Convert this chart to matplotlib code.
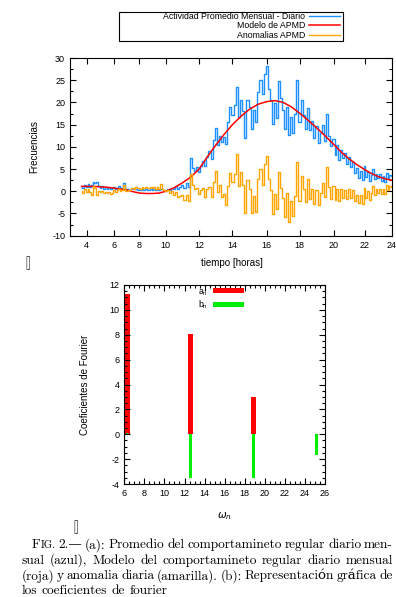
import numpy as np
import matplotlib
matplotlib.use("Agg")
import matplotlib.pyplot as plt
from matplotlib.patches import Rectangle
from matplotlib.ticker import MultipleLocator

# ------------------------------
# Data
# ------------------------------

# (a) daily series, one sample every 7.5 minutes
HOURS = np.arange(3.625, 24.0001, 0.125)

ACTIVIDAD = [
    1.2, 0.8, 1.5,
    1.0, 1.6, 0.9, 1.3, 2.2, 1.8, 2.0, 1.2,          # 4 h
    0.8, 1.1, 0.6, 0.9, 0.5, 0.8, 0.4, 0.7,          # 5 h
    0.9, 0.5, 0.7, 1.1, 0.6, 0.8, 1.9, 0.6,          # 6 h
    0.4, 0.6, 0.3, 0.7, 0.5, 0.4, 0.6, 0.3,          # 7 h
    0.4, 0.2, 0.5, 0.3, 0.4, 0.2, 0.3, 0.5,          # 8 h
    0.3, 0.4, 0.2, 0.5, 0.3, 0.6, 0.4, 0.2,          # 9 h
    0.1, 0.5, 0.3, 0.8, 0.4, 1.2, 0.6, 0.9,          # 10 h
    1.5, 0.7, 1.8, 1.0, 7.4, 5.2, 4.6, 5.5,          # 11 h
    4.4, 5.8, 6.9, 5.6, 7.8, 9.0, 7.2, 11.6,         # 12 h
    14.3, 10.4, 12.5, 11.0, 12.2, 10.6, 15.5, 18.9,  # 13 h
    17.2, 19.4, 23.5, 16.8, 20.6, 18.1, 12.0, 20.5,  # 14 h
    19.0, 14.0, 18.2, 15.5, 22.4, 25.0, 21.8, 26.5,  # 15 h
    28.2, 23.0, 20.5, 15.2, 19.8, 16.5, 24.8, 21.0,  # 16 h
    18.4, 14.0, 19.0, 12.6, 16.8, 13.2, 17.5, 25.0,  # 17 h
    15.5, 20.6, 17.2, 14.0, 18.8, 13.8, 15.8, 12.0,  # 18 h
    14.6, 10.8, 13.2, 15.0, 11.3, 17.5, 12.4, 10.2,  # 19 h
    11.8, 8.2, 10.4, 7.0, 9.2, 7.4, 8.6, 6.2,        # 20 h
    7.8, 5.4, 6.6, 4.2, 5.2, 3.1, 4.6, 2.6,          # 21 h
    5.6, 3.2, 4.4, 2.3, 3.6, 5.0, 2.8, 4.0,          # 22 h
    3.0, 3.8, 2.4, 3.5, 2.2, 4.1, 2.9, 3.7,          # 23 h
    3.4,
]

ANOMALIAS = [
    0.1, -0.3, 0.4,
    -0.1, 0.5, -0.2, -0.8, 1.1, 0.7, -0.9, 0.1,      # 4 h
    -0.2, 0.1, -0.4, -0.1, -0.5, -0.2, -0.6, -0.3,   # 5 h
    0.2, -0.2, 0.2, 0.6, 0.1, 0.3, 1.4, 0.1,         # 6 h
    0.1, 0.3, 0.2, 0.8, 0.7, 0.6, 1.0, 0.7,          # 7 h
    0.8, 0.6, 1.0, 0.8, 0.9, 0.7, 0.8, 1.0,          # 8 h
    0.8, 0.9, 0.6, 0.9, 0.6, 1.7, 0.5, 0.2,          # 9 h
    0.1, 0.2, -0.3, 0.0, -0.8, -0.2, -1.4, -1.1,     # 10 h
    -0.8, -2.0, -0.9, -2.2, 4.0, 1.5, 0.4, 0.8,      # 11 h
    -0.6, 0.2, 0.8, -1.2, 0.4, 0.9, -1.4, 2.2,       # 12 h
    4.5, -0.1, 1.4, -1.2, -0.6, -3.0, 1.2, 4.2,      # 13 h
    2.0, 3.8, 8.5, 1.2, 4.3, 1.3, -5.0, 2.6,         # 14 h
    0.4, -5.0, -1.0, -4.6, 2.8, 5.0, 1.5, 6.2,       # 15 h
    8.0, 2.7, 0.2, -5.2, -0.6, -3.9, 4.4, 0.8,       # 16 h
    -1.6, -5.8, -0.5, -7.0, -2.2, -5.5, -1.1, 6.5,   # 17 h
    -2.1, 3.4, 0.4, -2.4, 2.8, -1.8, 0.6, -2.8,      # 18 h
    0.3, -3.0, -0.5, 1.8, -1.2, 5.5, 0.9, -1.8,      # 19 h
    1.2, -2.0, 0.6, -2.3, 0.4, -1.6, 0.2, -1.8,      # 20 h
    0.5, -1.5, 0.3, -2.2, -0.8, -2.6, -0.9, -2.9,    # 21 h
    0.7, -1.5, 0.0, -2.0, -0.4, 1.2, -0.8, 0.5,      # 22 h
    -0.3, 0.6, -0.7, 0.5, -0.6, 1.4, 0.2, 1.1,       # 23 h
    0.9,
]

# fitted model (red), read every half hour
MODELO_HOURS = [3.625, 4.0, 4.5, 5.0, 5.5, 6.0, 6.5, 7.0, 7.5, 8.0, 8.5, 9.0,
                9.5, 10.0, 10.5, 11.0, 11.5, 12.0, 12.5, 13.0, 13.5, 14.0,
                14.5, 15.0, 15.5, 16.0, 16.5, 17.0, 17.5, 18.0, 18.5, 19.0,
                19.5, 20.0, 20.5, 21.0, 21.5, 22.0, 22.5, 23.0, 23.5, 24.0]
MODELO = [1.1, 1.1, 1.1, 1.0, 0.9, 0.7, 0.5, 0.3, -0.1, -0.4, -0.5, -0.5,
          -0.4, 0.0, 0.8, 1.9, 3.2, 5.0, 7.8, 10.4, 12.8, 15.0,
          16.9, 18.5, 19.6, 20.2, 20.4, 20.0, 19.0, 17.6, 16.0, 14.3,
          12.5, 10.6, 8.8, 7.3, 6.0, 4.9, 4.0, 3.3, 2.8, 2.5]

SERIES_LABELS = ["Actividad Promedio Mensual - Diario", "Modelo de APMD", "Anomalias APMD"]

# gnuplot spaced the hour ticks unevenly; pixel position of each along the axis
X_TICK_HOURS = [2, 4, 6, 8, 10, 12, 14, 16, 18, 20, 22, 24]
X_TICK_PIXELS = [59.1, 86.7, 114.3, 139.3, 165.7, 199.0, 232.3, 266.7, 299.3, 333.3, 364.3, 391.7]

# (b) Fourier coefficients
OMEGA_N = [6.28, 12.57, 18.85, 25.13]
A_N = [11.25, 8.1, 3.0, 0.0]
B_N = [0.1, -3.5, -3.5, -1.65]

CAPTION = [
    "FIG. 2.\u2014 (a): Promedio del comportamineto regular diario men-",
    "sual (azul), Modelo del comportamineto regular diario mensual",
    "(roja) y anomalia diaria (amarilla). (b): Representación gráfica de",
    "los coeficientes de fourier",
]

# ------------------------------
# Style
# ------------------------------

W_PX, H_PX = 396, 597
SANS = ["Liberation Sans", "DejaVu Sans"]
SERIF = ["cmr10", "DejaVu Serif"]
plt.rcParams["font.family"] = SANS
plt.rcParams["axes.unicode_minus"] = False
plt.rcParams["axes.linewidth"] = 0.8

BLUE = "#1e90ff"
RED = "#ff0000"
ORANGE = "#ffa500"
GREEN = "#00ee00"


def fig_rect(left, top, right, bottom):
    """pixel box -> figure fraction rect"""
    return [left / W_PX, 1 - bottom / H_PX, (right - left) / W_PX, (bottom - top) / H_PX]


def hour_to_px(h):
    return np.interp(h, X_TICK_HOURS, X_TICK_PIXELS)


def px_to_hour(p):
    return np.interp(p, X_TICK_PIXELS, X_TICK_HOURS)


def style_ticks(ax, size=6.5):
    ax.tick_params(which="both", direction="in", top=True, right=True, labelsize=size, width=0.8)
    ax.tick_params(which="major", length=4, pad=3.5)
    ax.tick_params(which="minor", length=2)


def draw_caption(fig, lines, size=9.6):
    renderer = fig.canvas.get_renderer()
    starts = [31.7, 21.7, 21.7, 21.7]
    baselines = [548.3, 564.0, 579.3, 594.3]
    right = 393
    space = 0.333 * size * 100 / 72
    for i, line in enumerate(lines):
        words = []
        for w in line.split(" "):
            if w == "FIG.":
                pieces = [("F", size), ("IG.", size * 0.8)]
            else:
                pieces = [(w, size)]
            texts = []
            for s, fs in pieces:
                t = fig.text(0, 1 - baselines[i] / H_PX, s, fontsize=fs, family=SERIF,
                             va="baseline", ha="left")
                texts.append((t, t.get_window_extent(renderer).width))
            words.append(texts)
        total = sum(wd for texts in words for _, wd in texts)
        if i < len(lines) - 1:
            gap = (right - starts[i] - total) / (len(words) - 1)
        else:
            gap = space
        x = starts[i]
        for texts in words:
            for t, wd in texts:
                t.set_x(x / W_PX)
                x += wd
            x += gap


# ------------------------------
# Figure
# ------------------------------

fig = plt.figure(figsize=(W_PX / 100, H_PX / 100), dpi=100)

# (a) daily activity
ax1 = fig.add_axes(fig_rect(70, 58, 392, 235.7))
ax1.set_xscale("function", functions=(hour_to_px, px_to_hour))
l1, = ax1.plot(HOURS, ACTIVIDAD, color=BLUE, lw=1.0, drawstyle="steps-mid")
l2, = ax1.plot(MODELO_HOURS, MODELO, color=RED, lw=1.1)
l3, = ax1.plot(HOURS, ANOMALIAS, color=ORANGE, lw=1.0, drawstyle="steps-mid")
ax1.set_xlim(2.79, 24)
ax1.set_ylim(-10, 30)
ax1.set_xticks(X_TICK_HOURS[1:])
ax1.set_xticklabels([str(h) for h in X_TICK_HOURS[1:]])
ax1.set_yticks(np.arange(-10, 31, 5))
ax1.yaxis.set_minor_locator(MultipleLocator(2.5))
style_ticks(ax1)
ax1.set_xlabel("tiempo [horas]", fontsize=7)
ax1.set_ylabel("Frecuencias", fontsize=7)
ax1.xaxis.set_label_coords(0.503, -0.125)
ax1.yaxis.set_label_coords(-0.096, 0.5)

fig.patches.append(Rectangle((119 / W_PX, 1 - 41 / H_PX), 224 / W_PX, 29 / H_PX,
                             transform=fig.transFigure, fill=False, edgecolor="black", lw=0.8))
fig.legend([l1, l2, l3], SERIES_LABELS, loc="upper right",
           bbox_to_anchor=(341 / W_PX, 1 - 11 / H_PX), frameon=False, markerfirst=False,
           fontsize=6.3, handlelength=3.6, handletextpad=0.4, labelspacing=0.05,
           borderpad=0.1, borderaxespad=0)

fig.text(28 / W_PX, 1 - 263 / H_PX, "[]", family=SERIF, fontsize=10, ha="center", va="center")

# (b) Fourier coefficients
ax2 = fig.add_axes(fig_rect(124.3, 285, 325, 484))
ax2.bar(OMEGA_N, A_N, width=0.5, color=RED, label=r"a$_\mathregular{n}$")
ax2.bar(OMEGA_N, B_N, width=0.26, color=GREEN, label=r"b$_\mathregular{n}$")
ax2.set_xlim(6, 26)
ax2.set_ylim(-4, 12)
ax2.set_xticks(np.arange(6, 27, 2))
ax2.set_yticks(np.arange(-4, 13, 2))
ax2.xaxis.set_minor_locator(MultipleLocator(0.5))
ax2.yaxis.set_minor_locator(MultipleLocator(0.5))
style_ticks(ax2)
ax2.set_xlabel(r"$\omega_n$", fontsize=7.5)
ax2.set_ylabel("Coeficientes de Fourier", fontsize=7)
ax2.xaxis.set_label_coords(0.5, -0.13)
ax2.yaxis.set_label_coords(-0.171, 0.5)
fig.legend(*ax2.get_legend_handles_labels(), loc="upper right",
           bbox_to_anchor=(244 / W_PX, 1 - 287 / H_PX), frameon=False, markerfirst=False,
           fontsize=6.3, handlelength=3.6, handleheight=0.5, handletextpad=0.5,
           labelspacing=0.1, borderpad=0, borderaxespad=0)

fig.text(76 / W_PX, 1 - 527 / H_PX, "[]", family=SERIF, fontsize=10, ha="center", va="center")

draw_caption(fig, CAPTION)

fig.savefig("out.png", dpi=100)
